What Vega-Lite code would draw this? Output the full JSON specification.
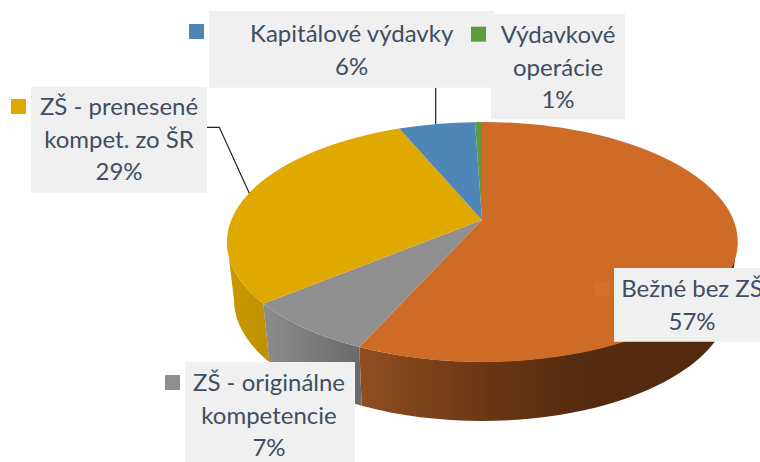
{
  "$schema": "https://vega.github.io/schema/vega-lite/v6.json",
  "width": 760,
  "height": 462,
  "padding": 0,
  "autosize": {"type": "none"},
  "background": "white",
  "config": {"view": {"stroke": null}},
  "data": {"values": [
    {"slice": "Bežné bez ZŠ", "share": 57, "label": ["Bežné bez ZŠ", "57%"]},
    {"slice": "ZŠ - originálne kompetencie", "share": 7, "label": ["ZŠ - originálne", "kompetencie", "7%"]},
    {"slice": "ZŠ - prenesené kompet. zo ŠR", "share": 29, "label": ["ZŠ - prenesené", "kompet. zo ŠR", "29%"]},
    {"slice": "Kapitálové výdavky", "share": 6, "label": ["Kapitálové výdavky", "6%"]},
    {"slice": "Výdavkové operácie", "share": 1, "label": ["Výdavkové", "operácie", "1%"]}
  ]},
  "layer": [
    {
      "transform": [{"filter": "datum.share == 57"}],
      "mark": {"type": "point", "filled": true, "opacity": 1, "strokeWidth": 0, "fill": {"gradient": "linear", "x1": 0, "y1": 0, "x2": 1, "y2": 0, "stops": [
        {"offset": 0, "color": "#8F4E20"},
        {"offset": 0.35, "color": "#693615"},
        {"offset": 0.6, "color": "#552B0F"},
        {"offset": 1, "color": "#52290D"}
      ]}},
      "encoding": {
        "size": {"value": 4},
        "shape": {"field": "slice", "type": "nominal", "legend": null, "scale": {
          "domain": ["Bežné bez ZŠ"],
          "range": ["M-20.7,116A255,120 0 0 0 357,11L350,69A248,121 0 0 1 -18.3,174.8Z"]
        }}
      }
    },
    {
      "transform": [{"filter": "datum.share == 7"}],
      "mark": {"type": "point", "filled": true, "opacity": 1, "strokeWidth": 0, "fill": {"gradient": "linear", "x1": 0, "y1": 0, "x2": 1, "y2": 0, "stops": [
        {"offset": 0, "color": "#8C8C8C"},
        {"offset": 1, "color": "#6A6A6A"}
      ]}},
      "encoding": {
        "size": {"value": 4},
        "shape": {"field": "slice", "type": "nominal", "legend": null, "scale": {
          "domain": ["ZŠ - originálne kompetencie"],
          "range": ["M-116.7,72.7A255,120 0 0 0 -20.7,116L-18.3,174.8A248,121 0 0 1 -110.7,131Z"]
        }}
      }
    },
    {
      "transform": [{"filter": "datum.share == 29"}],
      "mark": {"type": "point", "filled": true, "opacity": 1, "strokeWidth": 0, "fill": {"gradient": "linear", "x1": 0, "y1": 0, "x2": 1, "y2": 0, "stops": [
        {"offset": 0, "color": "#C99A00"},
        {"offset": 1, "color": "#BD9000"}
      ]}},
      "encoding": {
        "size": {"value": 4},
        "shape": {"field": "slice", "type": "nominal", "legend": null, "scale": {
          "domain": ["ZŠ - prenesené kompet. zo ŠR"],
          "range": ["M-153,11A255,120 0 0 0 -116.7,72.7L-110.7,131A248,121 0 0 1 -146,69Z"]
        }}
      }
    },
    {
      "mark": {"type": "point", "filled": true, "opacity": 1, "strokeWidth": 0},
      "encoding": {
        "size": {"value": 4},
        "shape": {"field": "slice", "type": "nominal", "legend": null, "scale": {
          "domain": ["Bežné bez ZŠ", "ZŠ - originálne kompetencie", "ZŠ - prenesené kompet. zo ŠR", "Kapitálové výdavky", "Výdavkové operácie"],
          "range": [
            "M102,-11L102,-109A255,120 0 1 1 -20.7,116Z",
            "M102,-11L-116.7,72.7A255,120 0 0 0 -20.7,116Z",
            "M102,-11L19.3,-102.5A255,120 0 0 0 -116.7,72.7Z",
            "M102,-11L95,-108.8A255,120 0 0 0 19.3,-102.5Z",
            "M102,-11L102,-109A255,120 0 0 0 95,-108.8Z"
          ]
        }},
        "fill": {"field": "slice", "type": "nominal", "legend": null, "scale": {
          "domain": ["Bežné bez ZŠ", "ZŠ - originálne kompetencie", "ZŠ - prenesené kompet. zo ŠR", "Kapitálové výdavky", "Výdavkové operácie"],
          "range": ["#CE6C27", "#8F8F8F", "#DFA900", "#4E86B8", "#5E9B3E"]
        }}
      }
    },
    {
      "transform": [{"filter": "datum.share == 29 || datum.share == 6"}],
      "mark": {"type": "point", "filled": false, "opacity": 1, "fill": null, "stroke": "#222222", "strokeWidth": 1.2},
      "encoding": {
        "size": {"value": 4},
        "shape": {"field": "slice", "type": "nominal", "legend": null, "scale": {
          "domain": ["ZŠ - prenesené kompet. zo ŠR", "Kapitálové výdavky"],
          "range": ["M-173,-103.7H-160.7L-130.7,-37.7", "M55.7,-143.3V-107"]
        }}
      }
    },
    {
      "mark": {"type": "point", "filled": true, "opacity": 1, "fill": "#F0F0F0", "strokeWidth": 0},
      "encoding": {
        "size": {"value": 4},
        "shape": {"field": "slice", "type": "nominal", "legend": null, "scale": {
          "domain": ["Bežné bez ZŠ", "ZŠ - originálne kompetencie", "ZŠ - prenesené kompet. zo ŠR", "Kapitálové výdavky", "Výdavkové operácie"],
          "range": [
            "M234,37H380V110.7H234Z",
            "M-195,131H-25V231H-195Z",
            "M-349,-144.3H-173V-38.3H-349Z",
            "M-171,-220H115V-143.3H-171Z",
            "M111,-217H245V-111.7H111Z"
          ]
        }}
      }
    },
    {
      "mark": {"type": "point", "filled": true, "opacity": 1, "strokeWidth": 0},
      "encoding": {
        "size": {"value": 4},
        "shape": {"field": "slice", "type": "nominal", "legend": null, "scale": {
          "domain": ["Bežné bez ZŠ", "ZŠ - originálne kompetencie", "ZŠ - prenesené kompet. zo ŠR", "Kapitálové výdavky", "Výdavkové operácie"],
          "range": [
            "M215,50.7H230V65.7H215Z",
            "M-215,144H-200V159H-215Z",
            "M-369,-132H-354V-117H-369Z",
            "M-191,-207H-176V-192H-191Z",
            "M91,-204.3H106V-189.3H91Z"
          ]
        }},
        "fill": {"field": "slice", "type": "nominal", "legend": null, "scale": {
          "domain": ["Bežné bez ZŠ", "ZŠ - originálne kompetencie", "ZŠ - prenesené kompet. zo ŠR", "Kapitálové výdavky", "Výdavkové operácie"],
          "range": ["#D2702C", "#8F8F8F", "#DFA900", "#4E86B8", "#5E9B3E"]
        }}
      }
    },
    {
      "mark": {"type": "text", "font": "Lato", "fontSize": 24, "lineHeight": 32.5, "align": "center", "baseline": "middle", "color": "#404D62"},
      "encoding": {
        "text": {"field": "label"},
        "x": {"field": "share", "type": "quantitative", "axis": null, "scale": {"domain": [1, 6, 7, 29, 57], "range": [558, 351.7, 269, 119, 692], "nice": false, "zero": false}},
        "y": {"field": "share", "type": "quantitative", "axis": null, "scale": {"domain": [1, 6, 7, 29, 57], "range": [36, 35, 384, 108, 290], "nice": false, "zero": false}}
      }
    }
  ],
  "resolve": {"scale": {"shape": "independent", "fill": "independent"}}
}
